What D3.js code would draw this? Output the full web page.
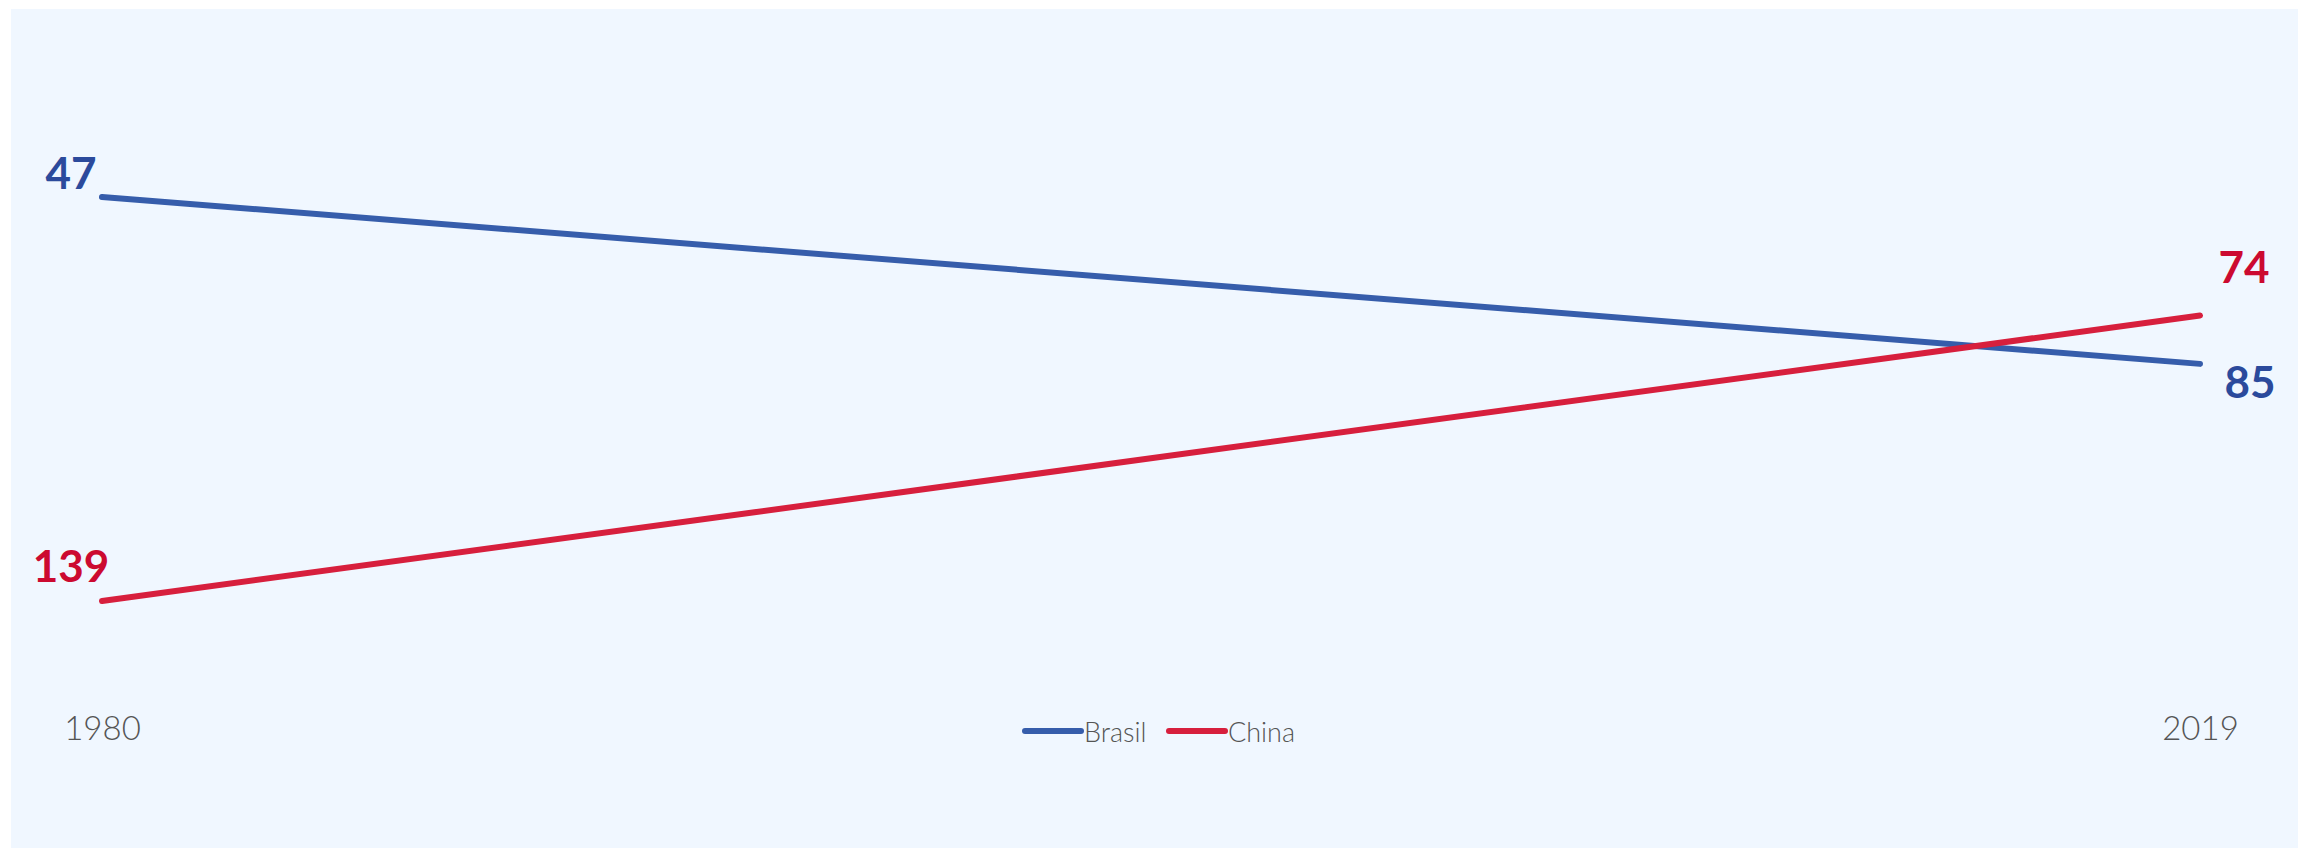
<!DOCTYPE html>
<html>
<head>
<meta charset="utf-8">
<script src="https://cdn.jsdelivr.net/npm/d3@7"></script>
<style>
  html, body { margin: 0; padding: 0; background: #ffffff; }
  svg { display: block; }
</style>
</head>
<body>
<svg id="chart" width="2298" height="848"></svg>
<script>
// Ranking positions (lower rank = higher on the chart)
const years = [1980, 2019];
const seriesNames = ["Brasil", "China"];
const brasilRank = [47, 85];
const chinaRank = [139, 74];
const yearLabels = ["1980", "2019"];

const colors = {
  Brasil: { line: "#365DAB", label: "#2B4A9C" },
  China:  { line: "#D71F3D", label: "#CC0A30" }
};

const series = [
  { name: seriesNames[0], values: brasilRank },
  { name: seriesNames[1], values: chinaRank }
];

const W = 2298, H = 848;
const svg = d3.select("#chart");

// panel background
svg.append("rect")
  .attr("x", 11).attr("y", 9)
  .attr("width", W - 11).attr("height", H - 9)
  .attr("fill", "#F0F7FF");

const x = d3.scaleLinear().domain([years[0], years[1]]).range([102, 2200]);
const y = d3.scaleLinear().domain([47, 139]).range([197, 601]);

// year axis along the bottom
const axis = d3.axisBottom(x)
  .tickValues(years)
  .tickFormat((d, i) => yearLabels[i])
  .tickSize(0)
  .tickPadding(0);

const gAxis = svg.append("g")
  .attr("transform", "translate(0,717)")
  .call(axis);
gAxis.select(".domain").remove();
gAxis.selectAll("text")
  .attr("dy", "0.71em")
  .attr("fill", "#555555")
  .style("font-family", "Lato, 'Open Sans', sans-serif")
  .style("font-weight", 300)
  .style("font-size", "33px");

// slope lines
const line = d3.line()
  .x((d, i) => x(years[i]))
  .y(d => y(d));

svg.append("g").selectAll("path")
  .data(series)
  .join("path")
  .attr("d", d => line(d.values))
  .attr("fill", "none")
  .attr("stroke", d => colors[d.name].line)
  .attr("stroke-width", 6)
  .attr("stroke-linecap", "round");

// value labels: baseline offsets from each end point
const labelOffsets = {
  Brasil: [{ dx: -31, dy: -8 }, { dx: 50, dy: 34 }],
  China:  [{ dx: -31, dy: -19 }, { dx: 44, dy: -33 }]
};

const labels = [];
series.forEach(s => {
  s.values.forEach((v, i) => {
    labels.push({ name: s.name, value: v, year: years[i], off: labelOffsets[s.name][i] });
  });
});

svg.append("g").selectAll("text")
  .data(labels)
  .join("text")
  .attr("x", d => x(d.year) + d.off.dx)
  .attr("y", d => y(d.value) + d.off.dy)
  .attr("text-anchor", "middle")
  .attr("fill", d => colors[d.name].label)
  .style("font-family", "Lato, 'Open Sans', sans-serif")
  .style("font-weight", 700)
  .style("font-size", "44px")
  .text(d => d.value);

// legend
const legend = svg.append("g").attr("transform", "translate(1025,731)");
const legendItems = legend.selectAll("g")
  .data(series)
  .join("g")
  .attr("transform", (d, i) => `translate(${i * 144},0)`);

legendItems.append("line")
  .attr("x1", 0).attr("x2", 56)
  .attr("y1", 0).attr("y2", 0)
  .attr("stroke", d => colors[d.name].line)
  .attr("stroke-width", 6)
  .attr("stroke-linecap", "round");

legendItems.append("text")
  .attr("x", 59)
  .attr("y", 11)
  .attr("fill", "#555555")
  .style("font-family", "Lato, 'Open Sans', sans-serif")
  .style("font-weight", 300)
  .style("font-size", "27px")
  .text(d => d.name);
</script>
</body>
</html>
